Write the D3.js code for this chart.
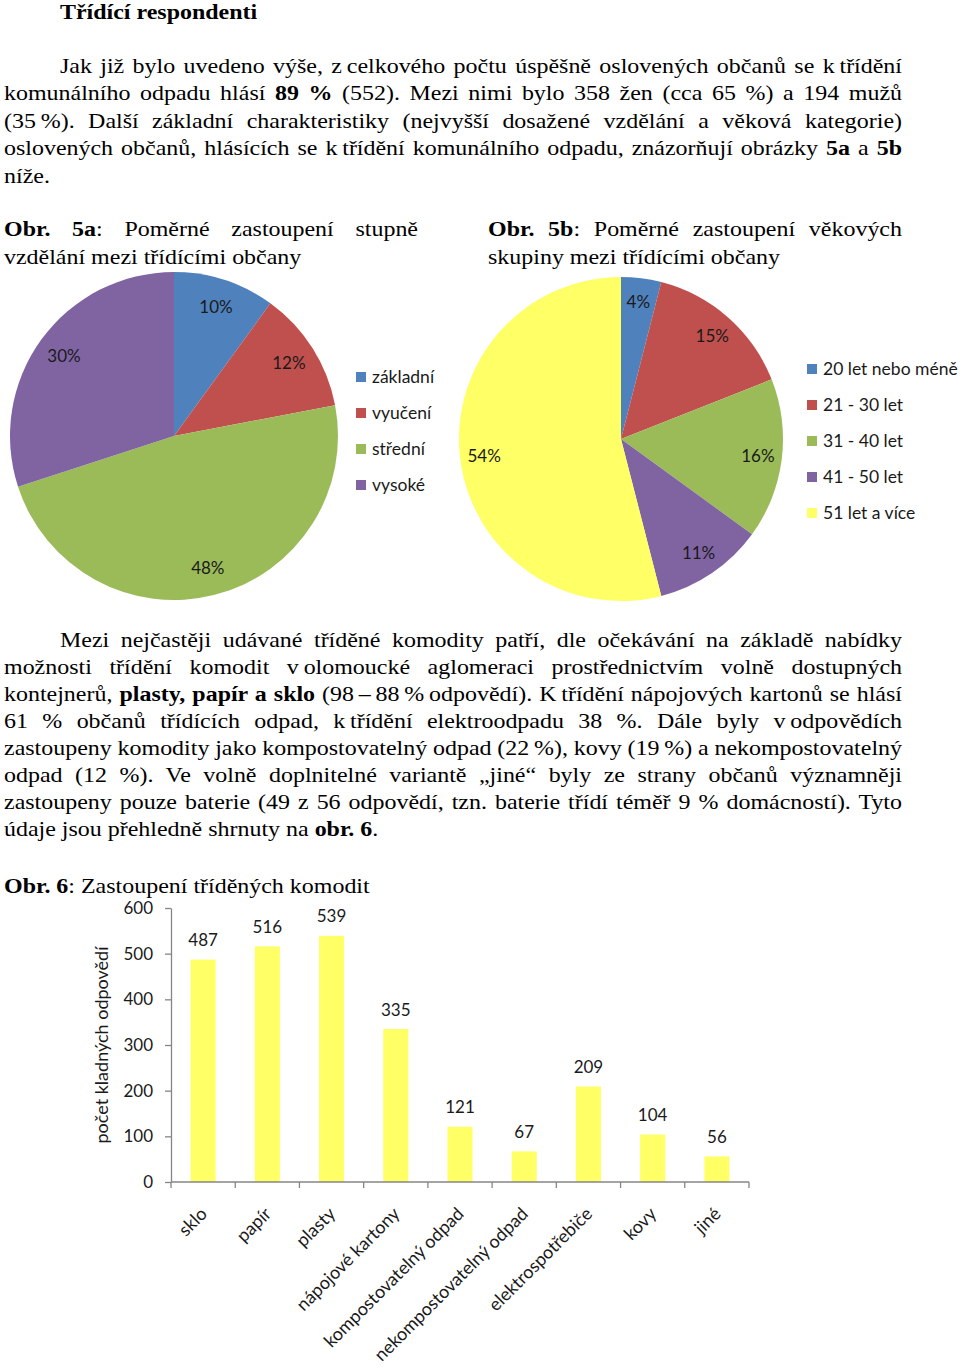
<!DOCTYPE html>
<html>
<head>
<meta charset="utf-8">
<script src="https://cdn.jsdelivr.net/npm/d3@7"></script>
<style>
  html, body { margin: 0; padding: 0; background: #fff; }
  svg { display: block; }
</style>
</head>
<body>
<svg id="page" width="960" height="1368"></svg>
<script>
// ---------- DATA ----------
const NB = "\u202F"; // non-stretching space (Word no-break space)
const heading = "Třídící respondenti";

const para1Lines = [
  "Jak již bylo uvedeno výše, z" + NB + "celkového počtu úspěšně oslovených občanů se k" + NB + "třídění",
  "komunálního odpadu hlásí **89 %** (552). Mezi nimi bylo 358 žen (cca 65 %) a 194 mužů",
  "(35" + NB + "%). Další základní charakteristiky (nejvyšší dosažené vzdělání a věková kategorie)",
  "oslovených občanů, hlásících se k" + NB + "třídění komunálního odpadu, znázorňují obrázky **5a** a **5b**",
  "níže."
];

const caption5a = ["**Obr. 5a**: Poměrné zastoupení stupně", "vzdělání mezi třídícími občany"];
const caption5b = ["**Obr. 5b**: Poměrné zastoupení věkových", "skupiny mezi třídícími občany"];

const para2Lines = [
  "Mezi nejčastěji udávané tříděné komodity patří, dle očekávání na základě nabídky",
  "možnosti třídění komodit v" + NB + "olomoucké aglomeraci prostřednictvím volně dostupných",
  "kontejnerů, **plasty, papír a sklo** (98" + NB + "–" + NB + "88" + NB + "%" + NB + "odpovědí). K" + NB + "třídění nápojových kartonů se hlásí",
  "61 % občanů třídících odpad, k" + NB + "třídění elektroodpadu 38 %. Dále byly v" + NB + "odpovědích",
  "zastoupeny komodity jako kompostovatelný odpad (22" + NB + "%), kovy (19" + NB + "%) a nekompostovatelný",
  "odpad (12 %). Ve volně doplnitelné variantě „jiné“ byly ze strany občanů významněji",
  "zastoupeny pouze baterie (49 z 56 odpovědí, tzn. baterie třídí téměř 9 % domácností). Tyto",
  "údaje jsou přehledně shrnuty na **obr. 6**."
];

const caption6 = "**Obr. 6**: Zastoupení tříděných komodit";

const eduCategories = ["základní", "vyučení", "střední", "vysoké"];
const eduShares = [10, 12, 48, 30];

const ageCategories = ["20 let nebo méně", "21 - 30 let", "31 - 40 let", "41 - 50 let", "51 let a více"];
const ageShares = [4, 15, 16, 11, 54];

const commodities = ["sklo", "papír", "plasty", "nápojové kartony", "kompostovatelný odpad",
  "nekompostovatelný odpad", "elektrospotřebiče", "kovy", "jiné"];
const commodityCounts = [487, 516, 539, 335, 121, 67, 209, 104, 56];

const yTicks = [0, 100, 200, 300, 400, 500, 600];
const yTitle = "počet kladných odpovědí";

const palette = ["#4F81BD", "#C0504D", "#9BBB59", "#8064A2", "#FFFF66"];
const barColor = "#FFFF66";

// ---------- RENDER ----------
const svg = d3.select("#page");
const SERIF = "'Liberation Serif', 'Times New Roman', serif";
const SANS = "Lato, 'Open Sans', sans-serif";
const BODY_SIZE = 21.5;
const SX = 1.115; // horizontal stretch of the scanned page text

function parseSegs(str) {
  const parts = str.split("**");
  return parts.map((t, i) => ({ t, b: i % 2 === 1 })).filter(s => s.t.length);
}

function textLine(x, y, str, width, opts = {}) {
  const t = svg.append("text")
    .attr("transform", `translate(${x},${y}) scale(${SX},1)`)
    .attr("font-family", SERIF)
    .attr("font-size", opts.size || BODY_SIZE)
    .attr("fill", "#000")
    .style("white-space", "pre");
  parseSegs(str).forEach(s => {
    const sp = t.append("tspan").text(s.t);
    if (s.b || opts.bold) sp.attr("font-weight", "bold");
  });
  if (width) {
    const len = t.node().getComputedTextLength();
    const n = (str.replace(/\*\*/g, "").match(/ /g) || []).length;
    if (n) t.style("word-spacing", ((width / SX - len) / n) + "px");
  }
  return t;
}

// heading
textLine(60, 19, heading, null, { bold: true });

// paragraph 1
const P_LEFT = 4, P_RIGHT = 902, INDENT = 60;
para1Lines.forEach((ln, i) => {
  const x = i === 0 ? INDENT : P_LEFT;
  const last = i === para1Lines.length - 1;
  textLine(x, 72.5 + i * 27.5, ln, last ? null : P_RIGHT - x);
});

// captions 5a / 5b
textLine(4, 236, caption5a[0], 414);
textLine(4, 263.5, caption5a[1]);
textLine(488, 236, caption5b[0], 414);
textLine(488, 263.5, caption5b[1]);

// paragraph 2
para2Lines.forEach((ln, i) => {
  const x = i === 0 ? INDENT : P_LEFT;
  const last = i === para2Lines.length - 1;
  textLine(x, 646.7 + i * 27.05, ln, last ? null : P_RIGHT - x);
});

// caption 6
textLine(4, 893, caption6);

// ---------- PIE CHARTS ----------
function drawPie(cx, cy, r, cats, vals, labelR, legendX, legendY0, legendStep) {
  const g = svg.append("g").attr("transform", `translate(${cx},${cy})`);
  const pie = d3.pie().sort(null).value(d => d)(vals);
  const arc = d3.arc().innerRadius(0).outerRadius(r);
  const labelArc = d3.arc().innerRadius(labelR).outerRadius(labelR);
  g.selectAll("path.slice").data(pie).join("path")
    .attr("class", "slice")
    .attr("d", arc)
    .attr("fill", (d, i) => palette[i]);
  g.selectAll("text.pl").data(pie).join("text")
    .attr("class", "pl")
    .attr("transform", d => `translate(${labelArc.centroid(d)})`)
    .attr("text-anchor", "middle")
    .attr("dy", "0.36em")
    .attr("font-family", SANS)
    .attr("font-size", 17)
    .attr("fill", "#1a1a1a")
    .text(d => d.data + "%");
  const lg = svg.append("g");
  cats.forEach((c, i) => {
    const y = legendY0 + i * legendStep;
    lg.append("rect").attr("x", legendX).attr("y", y).attr("width", 10).attr("height", 10)
      .attr("fill", palette[i]);
    lg.append("text").attr("x", legendX + 16).attr("y", y + 11)
      .attr("font-family", SANS).attr("font-size", 17.5).attr("fill", "#1a1a1a")
      .text(c);
  });
}

drawPie(174, 436, 164, eduCategories, eduShares, 136, 356, 372, 36);
drawPie(621, 439, 162, ageCategories, ageShares, 138, 807, 364, 36);

// ---------- BAR CHART ----------
const X0 = 171, X1 = 749, Y0 = 1182, Y1 = 908;
const x = d3.scaleBand().domain(commodities).range([X0, X1]).paddingInner(0).paddingOuter(0);
const y = d3.scaleLinear().domain([0, 600]).range([Y0, Y1]);
const AXIS = "#868686";
const bw = x.bandwidth();

const bars = svg.append("g");
bars.selectAll("rect").data(commodities).join("rect")
  .attr("x", d => x(d) + bw * 0.305)
  .attr("width", bw * 0.39)
  .attr("y", (d, i) => y(commodityCounts[i]))
  .attr("height", (d, i) => Y0 - y(commodityCounts[i]))
  .attr("fill", barColor);

bars.selectAll("text.val").data(commodities).join("text")
  .attr("class", "val")
  .attr("x", d => x(d) + bw / 2)
  .attr("y", (d, i) => y(commodityCounts[i]) - 13.5)
  .attr("text-anchor", "middle")
  .attr("font-family", SANS).attr("font-size", 17).attr("fill", "#1a1a1a")
  .text((d, i) => commodityCounts[i]);

// y axis
const yAxis = svg.append("g").attr("transform", `translate(${X0},0)`)
  .call(d3.axisLeft(y).tickValues(yTicks).tickSize(6).tickPadding(12).tickSizeOuter(0));
yAxis.select(".domain").attr("stroke", AXIS).attr("stroke-width", 1.3);
yAxis.selectAll(".tick line").attr("stroke", AXIS).attr("stroke-width", 1.3);
yAxis.selectAll(".tick text").attr("font-family", SANS).attr("font-size", 17).attr("fill", "#1a1a1a");

// x axis line + ticks at category boundaries
const xg = svg.append("g");
xg.append("line").attr("x1", X0).attr("x2", X1).attr("y1", Y0).attr("y2", Y0)
  .attr("stroke", AXIS).attr("stroke-width", 1.3);
const bounds = commodities.map(d => x(d)).concat([X1]);
xg.selectAll("line.tk").data(bounds).join("line")
  .attr("class", "tk")
  .attr("x1", d => d).attr("x2", d => d).attr("y1", Y0).attr("y2", Y0 + 6)
  .attr("stroke", AXIS).attr("stroke-width", 1.3);
xg.selectAll("text.cat").data(commodities).join("text")
  .attr("class", "cat")
  .attr("transform", d => `translate(${x(d) + bw / 2 + 5},${Y0 + 33}) rotate(-45)`)
  .attr("text-anchor", "end")
  .attr("font-family", SANS).attr("font-size", 18).attr("fill", "#1a1a1a")
  .text(d => d);

// y title
svg.append("text")
  .attr("transform", `translate(108,1045) rotate(-90)`)
  .attr("text-anchor", "middle")
  .attr("font-family", SANS).attr("font-size", 18).attr("fill", "#1a1a1a")
  .text(yTitle);
</script>
</body>
</html>
